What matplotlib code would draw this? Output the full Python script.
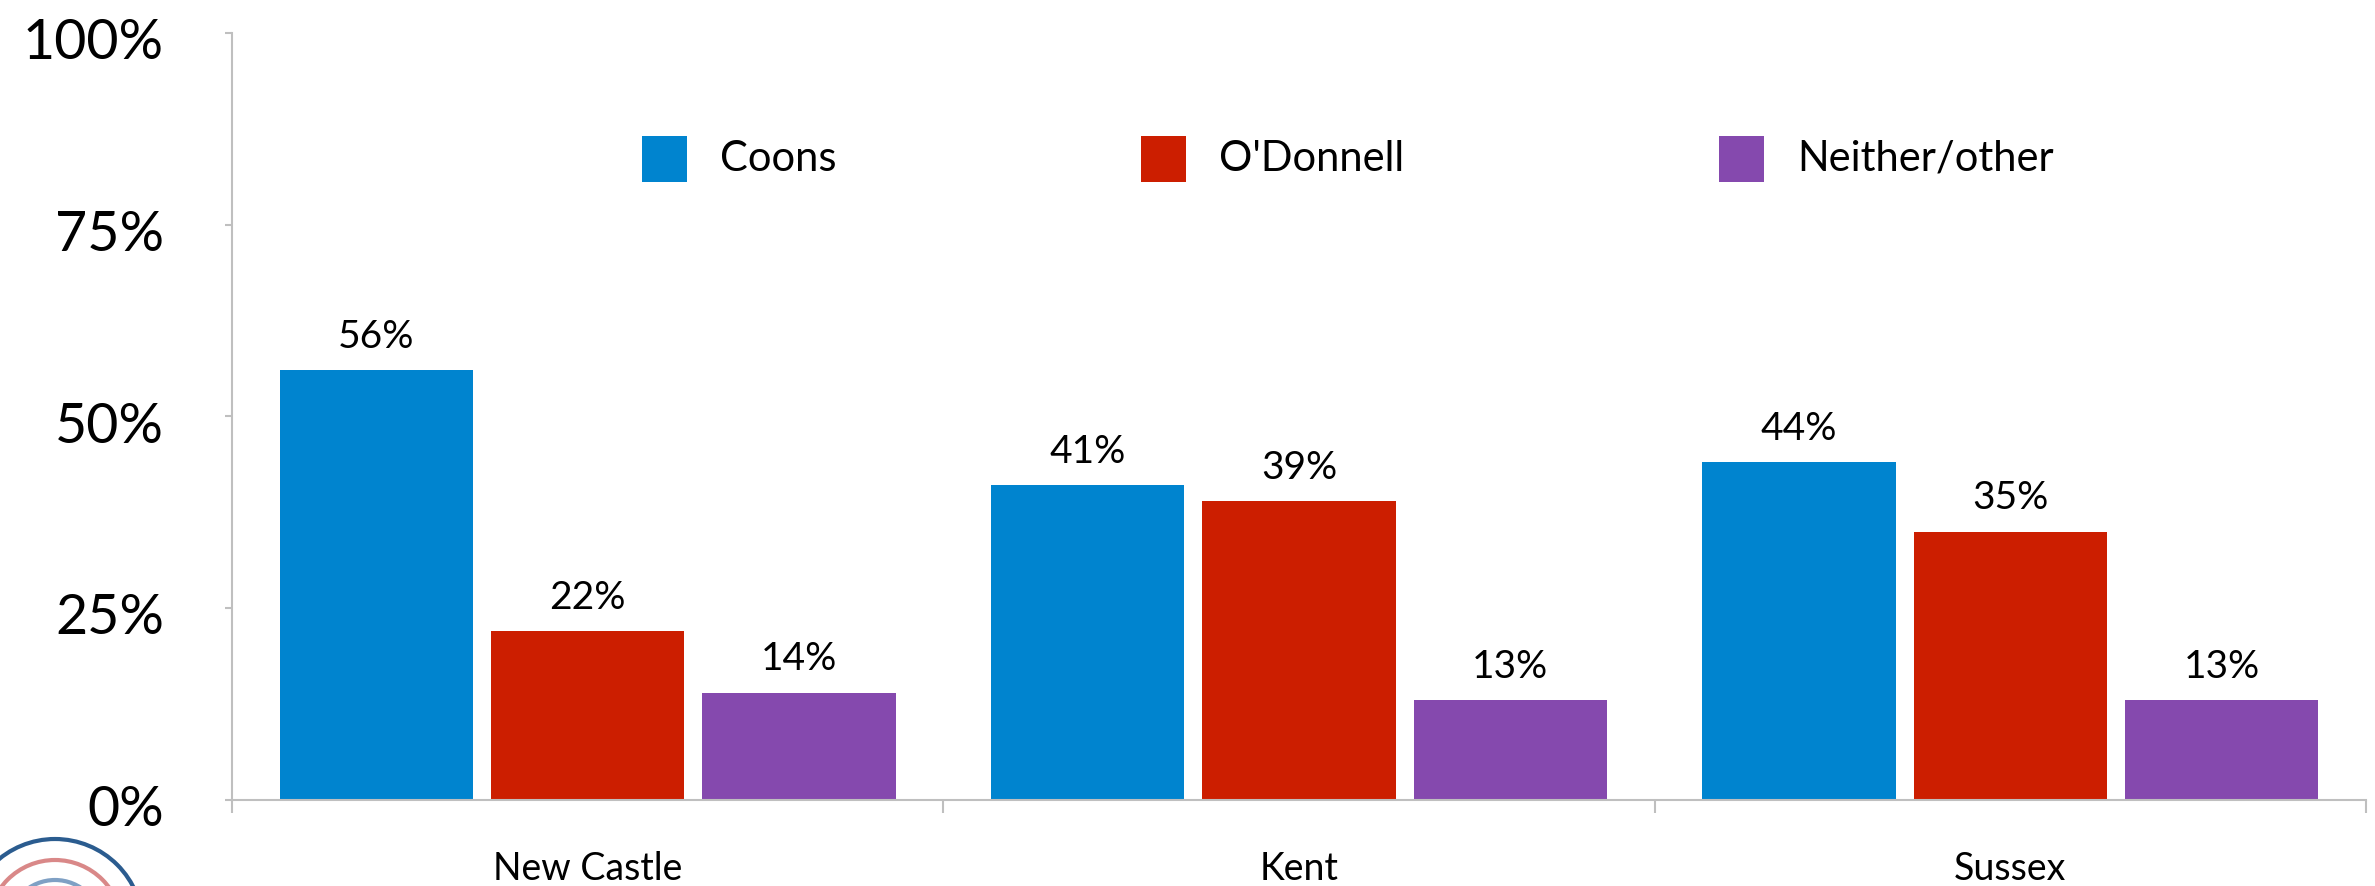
import matplotlib
matplotlib.use('Agg')
import numpy as np
import matplotlib.pyplot as plt
import matplotlib.transforms as mtransforms
from matplotlib.patches import Rectangle, Arc

plt.rcParams['font.family'] = ['Lato', 'DejaVu Sans']

# data
counties = ['New Castle', 'Kent', 'Sussex']
series = ['Coons', "O'Donnell", 'Neither/other']
coons = [56, 41, 44]
odonnell = [22, 39, 35]
neither = [14, 13, 13]
colors = ['#0084CF', '#CC1E00', '#8549AE']
yticks = [0, 25, 50, 75, 100]

values = [coons, odonnell, neither]

fig = plt.figure(figsize=(23.75, 8.86), dpi=100)
ax = fig.add_axes([0.0977, 0.0971, 0.8985, 0.8657])

x = np.arange(len(counties))
width = 0.272
offsets = [-0.297, 0.0, 0.297]

for vals, off, col in zip(values, offsets, colors):
    bars = ax.bar(x + off, vals, width=width, color=col, zorder=2)
    for b, v in zip(bars, vals):
        ax.annotate(f'{v}%', (b.get_x() + b.get_width() / 2, v),
                    xytext=(0, 11), textcoords='offset points',
                    ha='center', va='bottom', fontsize=28, color='black')

ax.set_xlim(-0.5, 2.5)
ax.set_ylim(0, 100)

ax.set_yticks(yticks)
ax.set_yticklabels([f'{t}%' for t in yticks], fontsize=40)
ax.tick_params(axis='y', length=5, width=1.5, color='#BFBFBF', pad=44)
# labels sit a touch below their ticks in the original
shift = mtransforms.ScaledTranslation(0, -4 / 72, fig.dpi_scale_trans)
for lab in ax.get_yticklabels():
    lab.set_transform(lab.get_transform() + shift)

ax.set_xticks([-0.5, 0.5, 1.5, 2.5])
ax.set_xticklabels([])
ax.set_xticks(x, minor=True)
ax.set_xticklabels(counties, minor=True, fontsize=27)
ax.tick_params(axis='x', which='major', length=9, width=1.5, color='#BFBFBF', direction='out')
ax.tick_params(axis='x', which='minor', length=0, pad=37)

for side in ['top', 'right']:
    ax.spines[side].set_visible(False)
for side in ['left', 'bottom']:
    ax.spines[side].set_color('#BFBFBF')
    ax.spines[side].set_linewidth(1.5)

# legend entries placed by hand to match the uneven spacing
legend_x = [0.192, 0.426, 0.697]
for lx, s, c in zip(legend_x, series, colors):
    ax.add_patch(Rectangle((lx, 0.806), 0.0211, 0.06, transform=ax.transAxes,
                           facecolor=c, edgecolor='none', clip_on=False))
    ax.text(lx + 0.0365, 0.836, s, transform=ax.transAxes, fontsize=30,
            ha='left', va='center')

# partial logo arcs in the lower left corner (figure pixels)
for r, col in [(88, '#2B5C8F'), (67, '#D98888'), (47, '#7FA0C4')]:
    arc = Arc((55, 886 - 927), 2 * r, 2 * r, theta1=0, theta2=180,
              color=col, linewidth=3, transform=None)
    fig.patches.append(arc)

fig.savefig('out.png', dpi=100)
